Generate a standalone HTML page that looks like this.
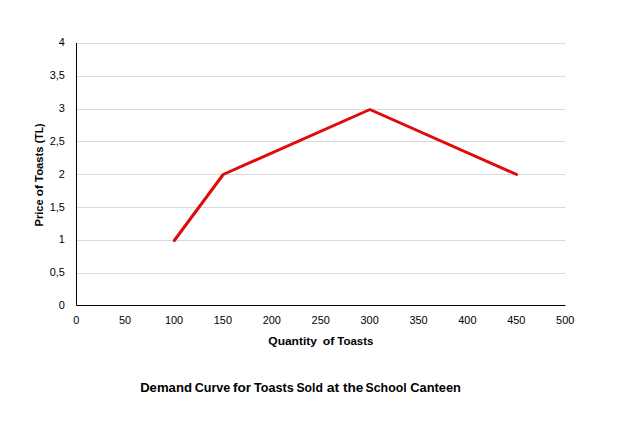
<!DOCTYPE html>
<html><head><meta charset="utf-8"><title>Demand Curve for Toasts Sold at the School Canteen</title>
<style>
html,body{margin:0;padding:0;background:#fff;}
body{width:636px;height:440px;overflow:hidden;}
svg{display:block;}
text{font-family:'Liberation Sans', sans-serif;fill:#000;}
</style></head><body>
<svg width="636" height="440" viewBox="0 0 636 440">
<rect width="636" height="440" fill="#fff"/>
<g stroke="#d9d9d9" stroke-width="1"><line x1="77" y1="273.50" x2="565.50" y2="273.50"/><line x1="77" y1="240.50" x2="565.50" y2="240.50"/><line x1="77" y1="207.50" x2="565.50" y2="207.50"/><line x1="77" y1="174.50" x2="565.50" y2="174.50"/><line x1="77" y1="141.50" x2="565.50" y2="141.50"/><line x1="77" y1="109.50" x2="565.50" y2="109.50"/><line x1="77" y1="76.50" x2="565.50" y2="76.50"/><line x1="77" y1="43.50" x2="565.50" y2="43.50"/></g>
<path d="M76.5 43.0 V305.5 H565.5" fill="none" stroke="#000" stroke-width="1"/>
<path d="M174.30 240.50 L223.20 174.50 L369.90 109.50 L516.60 174.50" fill="none" stroke="#e00a0a" stroke-width="3" stroke-linejoin="round" stroke-linecap="round"/>
<g font-size="10.6"><text x="64.85" y="308.50" text-anchor="end" textLength="6.09" lengthAdjust="spacingAndGlyphs">0</text><text x="64.85" y="275.60" text-anchor="end" textLength="15.17" lengthAdjust="spacingAndGlyphs">0,5</text><text x="64.85" y="242.50" text-anchor="end" textLength="6.09" lengthAdjust="spacingAndGlyphs">1</text><text x="64.85" y="210.60" text-anchor="end" textLength="15.17" lengthAdjust="spacingAndGlyphs">1,5</text><text x="64.85" y="177.60" text-anchor="end" textLength="6.09" lengthAdjust="spacingAndGlyphs">2</text><text x="64.85" y="144.50" text-anchor="end" textLength="15.17" lengthAdjust="spacingAndGlyphs">2,5</text><text x="64.85" y="111.60" text-anchor="end" textLength="6.09" lengthAdjust="spacingAndGlyphs">3</text><text x="64.85" y="78.50" text-anchor="end" textLength="15.17" lengthAdjust="spacingAndGlyphs">3,5</text><text x="64.85" y="46.10" text-anchor="end" textLength="6.09" lengthAdjust="spacingAndGlyphs">4</text></g>
<g font-size="10.6"><text x="76.20" y="324" text-anchor="middle" textLength="6.09" lengthAdjust="spacingAndGlyphs">0</text><text x="125.10" y="324" text-anchor="middle" textLength="12.17" lengthAdjust="spacingAndGlyphs">50</text><text x="174.00" y="324" text-anchor="middle" textLength="18.25" lengthAdjust="spacingAndGlyphs">100</text><text x="222.90" y="324" text-anchor="middle" textLength="18.25" lengthAdjust="spacingAndGlyphs">150</text><text x="271.80" y="324" text-anchor="middle" textLength="18.25" lengthAdjust="spacingAndGlyphs">200</text><text x="320.70" y="324" text-anchor="middle" textLength="18.25" lengthAdjust="spacingAndGlyphs">250</text><text x="369.60" y="324" text-anchor="middle" textLength="18.25" lengthAdjust="spacingAndGlyphs">300</text><text x="418.50" y="324" text-anchor="middle" textLength="18.25" lengthAdjust="spacingAndGlyphs">350</text><text x="467.40" y="324" text-anchor="middle" textLength="18.25" lengthAdjust="spacingAndGlyphs">400</text><text x="516.30" y="324" text-anchor="middle" textLength="18.25" lengthAdjust="spacingAndGlyphs">450</text><text x="565.20" y="324" text-anchor="middle" textLength="18.25" lengthAdjust="spacingAndGlyphs">500</text></g>
<text transform="rotate(-90)" y="42.6" font-size="11.8" font-weight="bold"><tspan x="-226.52" textLength="27.19" lengthAdjust="spacingAndGlyphs">Price</tspan> <tspan x="-196.34" textLength="11.25" lengthAdjust="spacingAndGlyphs">of</tspan> <tspan x="-181.90" textLength="35.39" lengthAdjust="spacingAndGlyphs">Toasts</tspan> <tspan x="-143.16" textLength="19.66" lengthAdjust="spacingAndGlyphs">(TL)</tspan></text>
<text y="345" font-size="11.8" font-weight="bold" xml:space="preserve"><tspan x="268.32" textLength="48.60" lengthAdjust="spacingAndGlyphs">Quantity</tspan>  <tspan x="322.84" textLength="11.57" lengthAdjust="spacingAndGlyphs">of</tspan> <tspan x="337.30" textLength="36.00" lengthAdjust="spacingAndGlyphs">Toasts</tspan></text>
<text y="392" font-size="13.0" font-weight="bold"><tspan x="140.15" textLength="51.79" lengthAdjust="spacingAndGlyphs">Demand</tspan> <tspan x="194.64" textLength="35.77" lengthAdjust="spacingAndGlyphs">Curve</tspan> <tspan x="232.91" textLength="18.16" lengthAdjust="spacingAndGlyphs">for</tspan> <tspan x="254.00" textLength="39.72" lengthAdjust="spacingAndGlyphs">Toasts</tspan> <tspan x="296.51" textLength="26.39" lengthAdjust="spacingAndGlyphs">Sold</tspan> <tspan x="326.71" textLength="12.57" lengthAdjust="spacingAndGlyphs">at</tspan> <tspan x="343.06" textLength="20.37" lengthAdjust="spacingAndGlyphs">the</tspan> <tspan x="365.60" textLength="40.97" lengthAdjust="spacingAndGlyphs">School</tspan> <tspan x="410.28" textLength="50.66" lengthAdjust="spacingAndGlyphs">Canteen</tspan></text>
</svg>
</body></html>
